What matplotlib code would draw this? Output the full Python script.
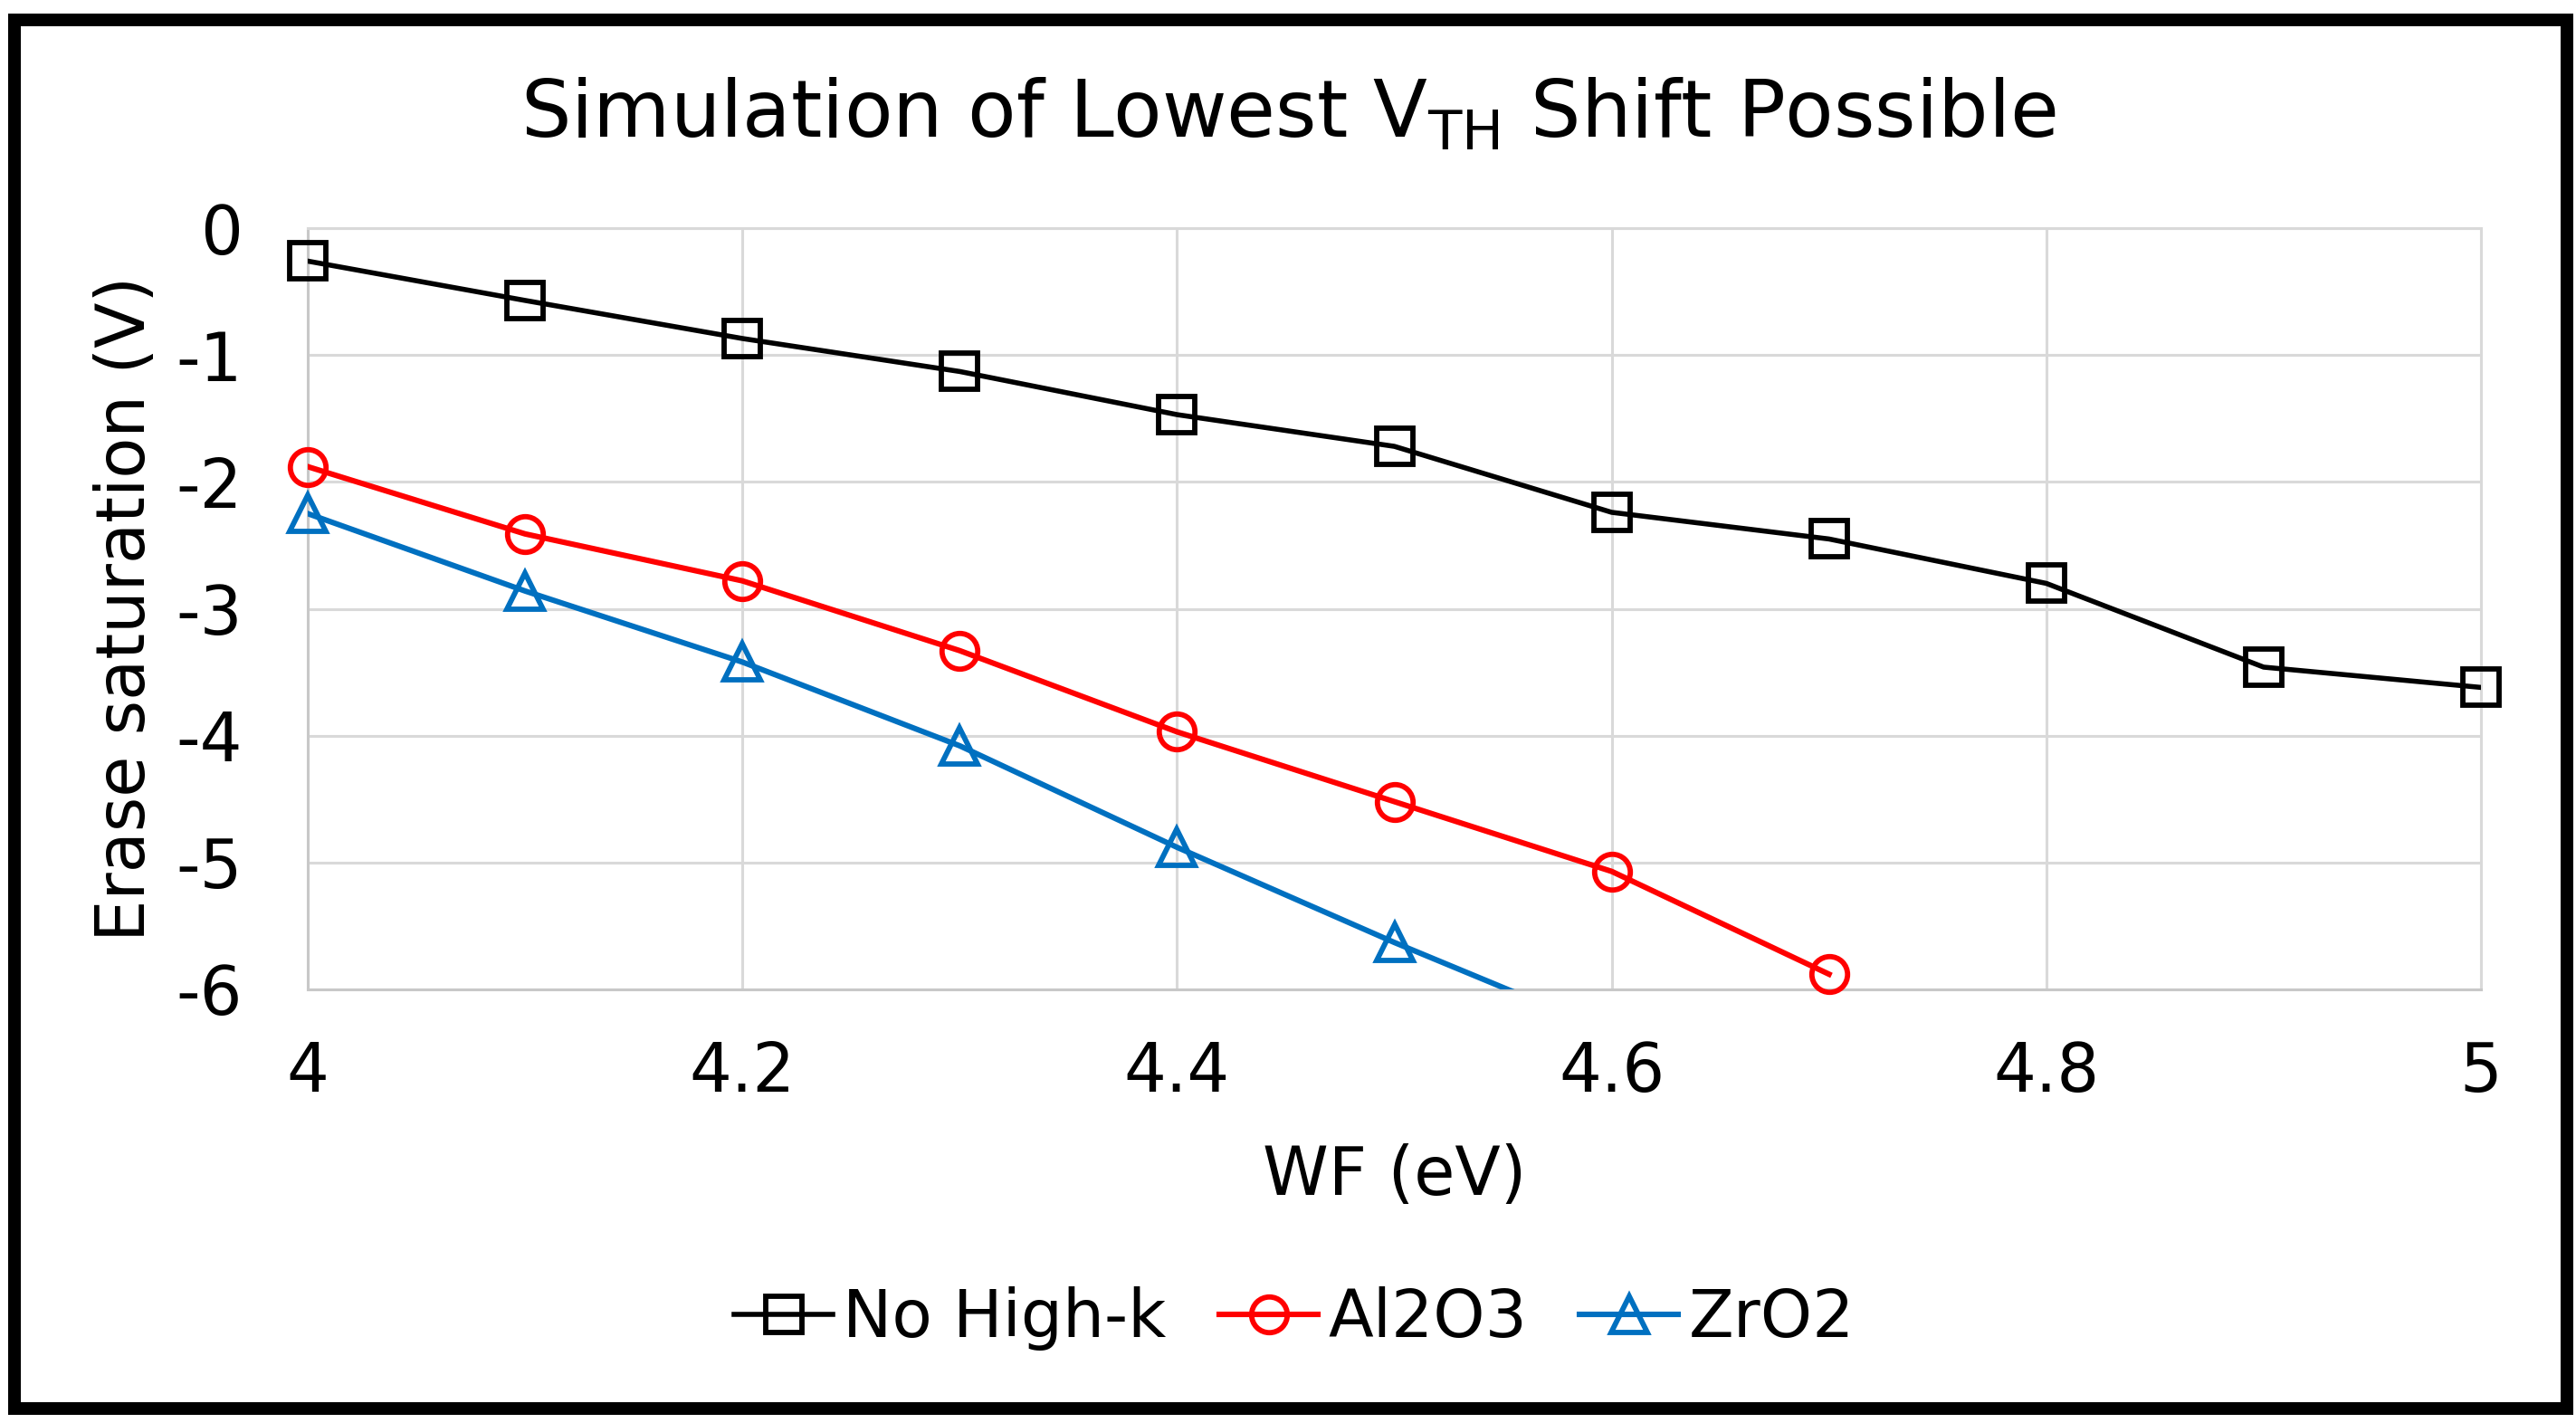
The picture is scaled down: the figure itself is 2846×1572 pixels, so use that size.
import matplotlib
matplotlib.use("Agg")
import matplotlib.pyplot as plt
from matplotlib.lines import Line2D
from matplotlib.patches import Rectangle
import numpy as np

plt.rcParams['font.family'] = ['DejaVu Sans']
plt.rcParams['mathtext.fontset'] = 'dejavusans'
plt.rcParams['axes.unicode_minus'] = False

# ---- data ----
wf_black = [4.0, 4.1, 4.2, 4.3, 4.4, 4.5, 4.6, 4.7, 4.8, 4.9, 5.0]
no_highk = [-0.26, -0.57, -0.87, -1.13, -1.47, -1.72, -2.24, -2.45, -2.80, -3.46, -3.62]
wf_red = [4.0, 4.1, 4.2, 4.3, 4.4, 4.5, 4.6, 4.7]
al2o3 = [-1.88, -2.41, -2.78, -3.33, -3.97, -4.52, -5.07, -5.88]
wf_blue = [4.0, 4.1, 4.2, 4.3, 4.4, 4.5, 4.6]
zro2 = [-2.25, -2.86, -3.42, -4.08, -4.88, -5.63, -6.34]

names = ["No High-k", "Al2O3", "ZrO2"]
colors = ["#000000", "#FF0000", "#0070C0"]
markers = ["s", "o", "^"]
xticks = [4.0, 4.2, 4.4, 4.6, 4.8, 5.0]
xtick_labels = ["4", "4.2", "4.4", "4.6", "4.8", "5"]
yticks = [0, -1, -2, -3, -4, -5, -6]
ytick_labels = ["0", "-1", "-2", "-3", "-4", "-5", "-6"]

W, H, DPI = 2846, 1572, 200
fig = plt.figure(figsize=(W / DPI, H / DPI), dpi=DPI)
fig.patch.set_facecolor("white")

# plot area in pixels
L, R, T, B = 340, 2741, 252, 1093
ax = fig.add_axes([L / W, 1 - B / H, (R - L) / W, (B - T) / H])

series = [(wf_black, no_highk), (wf_red, al2o3), (wf_blue, zro2)]
lws = [2.0, 2.2, 2.2]
ms, mew = 14.2, 2.1
handles = []
for (xs, ys), name, c, m, lw in zip(series, names, colors, markers, lws):
    xs = np.array(xs); ys = np.array(ys)
    ax.plot(xs, ys, color=c, lw=lw, clip_on=True, zorder=3)
    vis = ys >= -6.0
    ax.plot(xs[vis], ys[vis], ls="none", marker=m, markersize=ms,
            mfc="none", mec=c, mew=mew, clip_on=False, zorder=4)
    handles.append(Line2D([], [], color=c, lw=lw, marker=m, markersize=ms,
                          mfc="none", mec=c, mew=mew, label=name))

ax.set_xlim(4, 5)
ax.set_ylim(-6, 0)
ax.set_xticks(xticks)
ax.set_xticklabels(xtick_labels)
ax.set_yticks(yticks)
ax.set_yticklabels(ytick_labels)
ax.grid(True, color="#d9d9d9", lw=1.1, zorder=0)
ax.set_axisbelow(True)
for s in ax.spines.values():
    s.set_color("#d9d9d9")
    s.set_linewidth(1.1)
ax.spines["left"].set_color("#c8c8c8")
ax.spines["bottom"].set_color("#c8c8c8")
ax.tick_params(axis="both", length=0, labelsize=26.5, colors="black")
ax.tick_params(axis="y", pad=26)
ax.tick_params(axis="x", pad=20)

ax.set_xlabel("WF (eV)", fontsize=26.5, va="center")
ax.xaxis.set_label_coords(0.5, (B - 1300) / (B - T))
ax.set_ylabel("Erase saturation (V)", fontsize=26.5, va="center")
ax.yaxis.set_label_coords((140 - L) / (R - L), 0.5)

fig.text(0.5, 1 - 127 / H, r"Simulation of Lowest V$_\mathregular{TH}$ Shift Possible",
         ha="center", va="center", fontsize=31.5)

fig.legend(handles=handles, loc="center", bbox_to_anchor=(1430 / W, 1 - 1457 / H),
           ncol=3, frameon=False, fontsize=26.2, handlelength=1.5,
           handletextpad=0.15, columnspacing=0.8)

# outer black frame
lw_px = 14
fig.patches.append(Rectangle((16 / W, 1 - 1555.5 / H), (2836 - 16) / W, (1555.5 - 22) / H,
                             transform=fig.transFigure, fill=False, ec="black",
                             lw=lw_px * 72 / DPI, joinstyle="miter"))

fig.savefig("out.png", dpi=DPI, facecolor="white")
